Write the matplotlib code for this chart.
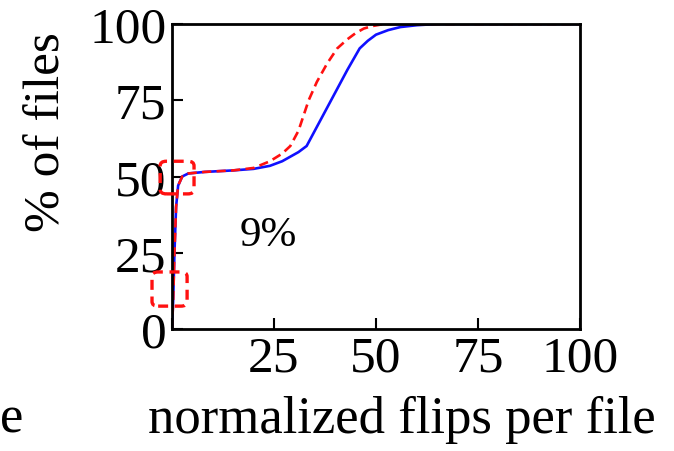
import matplotlib
matplotlib.use("Agg")
import matplotlib.pyplot as plt
from matplotlib.patches import FancyBboxPatch

# CDF of normalized flips per file
blue_x = [0, 0.3, 0.6, 1.0, 1.5, 2.5, 4, 8, 15, 20, 24, 27, 29, 31, 33, 35, 37, 40, 43, 46, 48, 50, 53, 56, 60, 65, 100]
blue_y = [0, 10, 25, 40, 47, 50, 51, 51.5, 52, 52.5, 53.5, 55, 56.5, 58, 60, 65, 70, 77.5, 85, 92, 94.5, 96.5, 98, 99, 99.6, 100, 100]
red_x = [0, 0.3, 0.6, 1.0, 1.5, 2.5, 4, 8, 15, 20, 24, 27, 29, 31, 32, 33.5, 35.5, 38, 40.5, 43, 45, 47, 49, 52, 100]
red_y = [0, 10, 25, 40, 47, 50, 51, 51.5, 52, 52.8, 55, 57.5, 60, 65, 69, 75, 81, 87, 92, 95, 97, 98.5, 99.3, 100, 100]

ticks = [0, 25, 50, 75, 100]
x_tick_labels = ["", "25", "50", "75", "100"]
y_tick_labels = ["0", "25", "50", "75", "100"]

# highlighted regions (x0, y0, width, height) in data units
boxes = [(-2.9, 44.3, 8.3, 10.7), (-4.9, 7.5, 8.6, 11.2)]

plt.rcParams['font.family'] = ['Liberation Serif', 'DejaVu Serif']

fig = plt.figure(figsize=(6.74, 4.52), dpi=100)
ax = fig.add_axes([0.2552, 0.2699, 0.6053, 0.6748])

ax.plot(blue_x, blue_y, linestyle='-', color='#1010ff', linewidth=1.9)
ax.plot(red_x, red_y, linestyle=(0, (3.5, 2)), color='#ff1010', linewidth=1.9)

for x0, y0, w, h in boxes:
    ax.add_patch(FancyBboxPatch((x0, y0), w, h,
                                boxstyle="round,pad=0,rounding_size=1.5",
                                fill=False, edgecolor='#ff1010', linewidth=2.4,
                                linestyle=(0, (3, 2)), clip_on=False, zorder=5))

ax.text(23.5, 31, "9%", fontsize=31, ha='center', va='center')

ax.set_xlim(0, 100)
ax.set_ylim(0, 100)
ax.set_xticks(ticks)
ax.set_xticklabels(x_tick_labels)
ax.set_yticks(ticks)
ax.set_yticklabels(y_tick_labels)
ax.tick_params(direction='in', length=8, width=1.5, labelsize=37, pad=4)
for s in ax.spines.values():
    s.set_linewidth(2)

fig.text(47 / 674, 1 - 132 / 452, "% of files", rotation=90, fontsize=37,
         ha='center', va='center')
fig.text(402 / 674, 1 - 420 / 452, "normalized flips per file", fontsize=38,
         ha='center', va='center')
fig.text(0.0, 1 - 420 / 452, "e", fontsize=38, ha='left', va='center')

fig.savefig("out.png", dpi=100)
